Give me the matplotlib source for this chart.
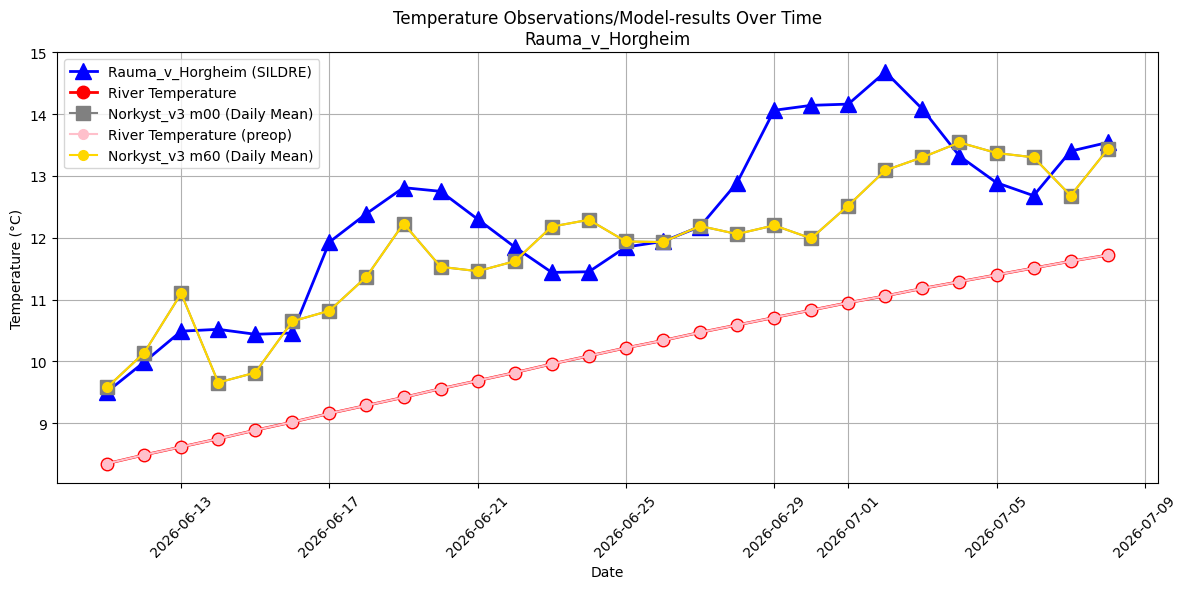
import matplotlib
matplotlib.use('Agg')
import matplotlib.pyplot as plt
import matplotlib.dates as mdates
import numpy as np
import pandas as pd

dates = pd.date_range('2026-06-11', '2026-07-08', freq='D')

sildre = [9.51, 9.99, 10.49, 10.52, 10.44, 10.46, 11.93, 12.39, 12.81, 12.75,
          12.30, 11.85, 11.44, 11.45, 11.85, 11.94, 12.18, 12.89, 14.06, 14.14,
          14.16, 14.68, 14.08, 13.32, 12.89, 12.68, 13.40, 13.54]

river = [8.35, 8.49, 8.62, 8.75, 8.89, 9.02, 9.16, 9.29, 9.42, 9.56,
         9.69, 9.82, 9.96, 10.09, 10.22, 10.34, 10.47, 10.59, 10.71, 10.83,
         10.95, 11.06, 11.18, 11.29, 11.40, 11.51, 11.62, 11.72]
river_preop = river

m00 = [9.58, 10.14, 11.10, 9.66, 9.82, 10.65, 10.82, 11.37, 12.23, 11.53,
       11.46, 11.62, 12.18, 12.29, 11.94, 11.93, 12.19, 12.06, 12.20, 11.99,
       12.52, 13.09, 13.30, 13.54, 13.37, 13.30, 12.68, 13.43]
m60 = m00

fig, ax = plt.subplots(figsize=(12, 6), dpi=100)

ax.plot(dates, sildre, color='blue', marker='^', markersize=12, linewidth=2,
        label='Rauma_v_Horgheim (SILDRE)')
ax.plot(dates, river, color='red', marker='o', markersize=9, linewidth=2,
        label='River Temperature')
ax.plot(dates, m00, color='gray', marker='s', markersize=10, linewidth=1.5,
        label='Norkyst_v3 m00 (Daily Mean)')
ax.plot(dates, river_preop, color='pink', marker='o', markersize=7, linewidth=1.5,
        label='River Temperature (preop)')
ax.plot(dates, m60, color='gold', marker='o', markersize=7, linewidth=1.5,
        label='Norkyst_v3 m60 (Daily Mean)')

ax.set_ylim(top=15)
ax.set_title('Temperature Observations/Model-results Over Time\nRauma_v_Horgheim')
ax.set_xlabel('Date')
ax.set_ylabel('Temperature (°C)')
ax.xaxis.set_major_formatter(mdates.DateFormatter('%Y-%m-%d'))
plt.setp(ax.get_xticklabels(), rotation=45)
ax.grid(True)
ax.legend(loc='upper left')

fig.tight_layout()
fig.savefig('out.png', bbox_inches='tight')
